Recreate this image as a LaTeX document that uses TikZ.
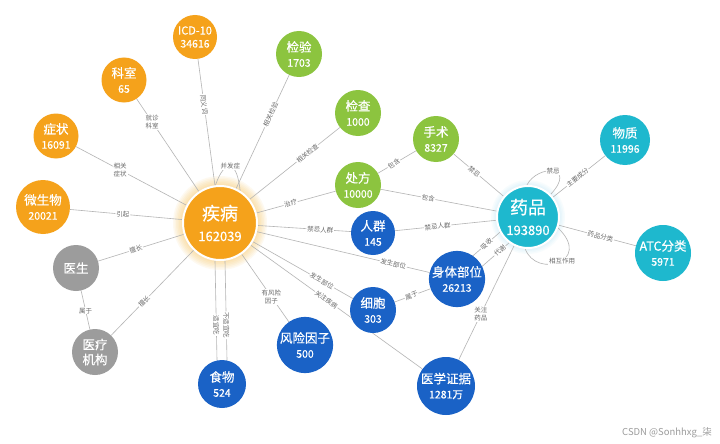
\documentclass[tikz,border=0pt]{standalone}
\usepackage{fontspec}
\setmainfont{Noto Sans CJK SC}
\newfontfamily\nodefont[FakeBold=0.5]{Noto Sans CJK SC}
\usetikzlibrary{backgrounds,calc}
\definecolor{cOr}{HTML}{F5A21B}
\definecolor{cGr}{HTML}{8CC43F}
\definecolor{cTe}{HTML}{1EB8CE}
\definecolor{cBl}{HTML}{1A62C6}
\definecolor{cGy}{HTML}{9C9C9C}
\definecolor{cLn}{HTML}{B4B4B4}
\definecolor{cLb}{HTML}{6A6A6A}
\definecolor{cGlowO}{HTML}{FBC35A}
\definecolor{cGlowT}{HTML}{9FDDF2}
\newcommand{\nd}[2]{#1\\{\fontsize{10.5}{15}\selectfont #2}}
\tikzset{
  kn/.style={circle, inner sep=0pt, text=white, align=center, minimum size=#1,
             font=\nodefont\fontsize{12.5}{15}\selectfont},
  orn/.style={kn=#1, fill=cOr},
  grn/.style={kn=#1, fill=cGr},
  ten/.style={kn=#1, fill=cTe},
  bln/.style={kn=#1, fill=cBl},
  gyn/.style={kn=#1, fill=cGy},
  hub/.style={draw=white, line width=2pt, font=\nodefont\fontsize{18}{21}\selectfont},
  edge/.style={draw=cLn, line width=0.6pt},
  lbl/.style={fill=white, text=cLb, font=\fontsize{6.5}{8}\selectfont, inner sep=0.8pt, align=center},
  slbl/.style={lbl, sloped},
}
\begin{document}
\begin{tikzpicture}[x=1pt,y=1pt]
\useasboundingbox (0,0) rectangle (720,-444);

% nodes
\node[orn=74, hub] (dis) at (220,-223) {疾病\\{\fontsize{13}{21}\selectfont 162039}};
\node[ten=62, hub] (yp) at (528,-217) {药品\\{\fontsize{13}{21}\selectfont 193890}};

\node[orn=44, font=\nodefont\fontsize{11}{13}\selectfont] (icd) at (195,-37) {ICD-10\\{\fontsize{10.5}{13}\selectfont 34616}};
\node[orn=45] (ks) at (124,-80) {\nd{科室}{65}};
\node[orn=45] (zz) at (56,-136) {\nd{症状}{16091}};
\node[orn=54] (wsw) at (43,-207) {\nd{微生物}{20021}};
\node[grn=46] (jy) at (299,-54) {\nd{检验}{1703}};
\node[grn=46] (jc) at (358,-113) {\nd{检查}{1000}};
\node[grn=46] (cf) at (358,-185) {\nd{处方}{10000}};
\node[grn=46] (ss) at (436,-139) {\nd{手术}{8327}};
\node[ten=50] (wz) at (625,-140) {\nd{物质}{11996}};
\node[ten=56] (atc) at (663,-253) {\nd{ATC分类}{5971}};
\node[bln=44] (rq) at (373,-233) {\nd{人群}{145}};
\node[bln=52] (stbw) at (457,-279) {\nd{身体部位}{26213}};
\node[bln=46] (xb) at (373,-310) {\nd{细胞}{303}};
\node[bln=58] (yxzj) at (446,-386) {\nd{医学证据}{1281万}};
\node[bln=50] (fxyz) at (305,-345) {\nd{风险因子}{500}};
\node[bln=48] (sw) at (222,-384) {\nd{食物}{524}};
\node[gyn=46] (ys) at (76,-268) {医生};
\node[gyn=46] (yljg) at (95,-352) {医疗\\机构};

\node[text=cGy, font=\fontsize{9.5}{11}\selectfont] (wm) at (667,-433) {CSDN @Sonhhxg\_柒};

\begin{pgfonlayer}{background}
\fill[white] (0,0) rectangle (720,-444);
% glows
\foreach \r in {38,39.5,...,47}{\fill[cGlowO, opacity=0.09] (dis.center) circle (\r pt);}
\foreach \r in {31,32.5,...,38}{\fill[cGlowT, opacity=0.08] (yp.center) circle (\r pt);}

% disease edges
\draw[edge] (icd) -- (dis) node[slbl, pos=0.36]{同义词};
\draw[edge] (ks) -- (dis) node[lbl, pos=0.25]{就诊\\科室};
\draw[edge] (zz) -- (dis) node[lbl, pos=0.40]{相关\\症状};
\draw[edge] (wsw) -- (dis) node[slbl, pos=0.47]{引起};
\draw[edge] (jy) -- (dis) node[slbl, pos=0.35]{相关检验};
\draw[edge] (jc) -- (dis) node[slbl, pos=0.36]{相关检查};
\draw[edge] (cf) -- (dis) node[slbl, pos=0.57]{治疗};
\draw[edge] (rq) -- (dis) node[slbl, pos=0.33]{禁忌人群};
\draw[edge] (stbw) -- (dis) node[slbl, pos=0.21]{发生部位};
\draw[edge] (xb) -- (dis) node[slbl, pos=0.31]{发生部位};
\draw[edge] (yxzj) -- (dis) node[slbl, pos=0.56]{关注疾病};
\draw[edge] (fxyz) -- (dis) node[lbl, pos=0.37]{有风险\\因子};
\draw[edge] ([xshift=-5pt]sw.north) -- ([xshift=-5pt]dis.south) node[slbl, pos=0.35]{适宜吃};
\draw[edge] ([xshift=5pt]sw.north) -- ([xshift=5pt]dis.south) node[slbl, pos=0.35]{不适宜吃};
\draw[edge] (ys) -- (dis) node[slbl, pos=0.44]{擅长};
\draw[edge] (yljg) -- (dis) node[slbl, pos=0.40]{擅长};
\draw[edge] (ys) -- (yljg) node[lbl, pos=0.52]{属于};
\draw[edge] (dis.97) .. controls +(10,28) and +(-3,30) .. (dis.58) node[lbl, pos=0.5]{并发症};

% drug / other edges
\draw[edge] (cf) -- (ss) node[slbl, pos=0.42]{包含};
\draw[edge] (cf) -- (yp) node[slbl, pos=0.41]{包含};
\draw[edge] (ss) -- (yp) node[slbl, pos=0.41]{禁忌};
\draw[edge] (rq) -- (yp) node[slbl, pos=0.42]{禁忌人群};
\draw[edge] (yp) -- (wz) node[slbl, pos=0.47]{主要成分};
\draw[edge] (yp) -- (atc) node[slbl, pos=0.54]{药品分类};
\draw[edge] (yp) -- (yxzj) node[lbl, pos=0.60]{关注\\药品};
\draw[edge] (xb) -- (stbw) node[slbl, pos=0.47]{属于};
\draw[edge, shorten <=25pt, shorten >=31pt] ($(stbw)!7pt!90:(yp)$) -- ($(yp)!7pt!-90:(stbw)$) node[slbl, pos=0.48]{吸收};
\draw[edge, shorten <=25pt, shorten >=31pt] ($(stbw)!7pt!-90:(yp)$) -- ($(yp)!7pt!90:(stbw)$) node[slbl, pos=0.54]{代谢};
\draw[edge] (yp.92) .. controls +(11,21) and +(27,29) .. (yp.45) node[lbl, pos=0.5]{禁忌};
\draw[edge] (yp.-95) .. controls +(11,-30) and +(35,-34) .. (yp.-20) node[lbl, pos=0.55]{相互作用};
\end{pgfonlayer}
\end{tikzpicture}
\end{document}
